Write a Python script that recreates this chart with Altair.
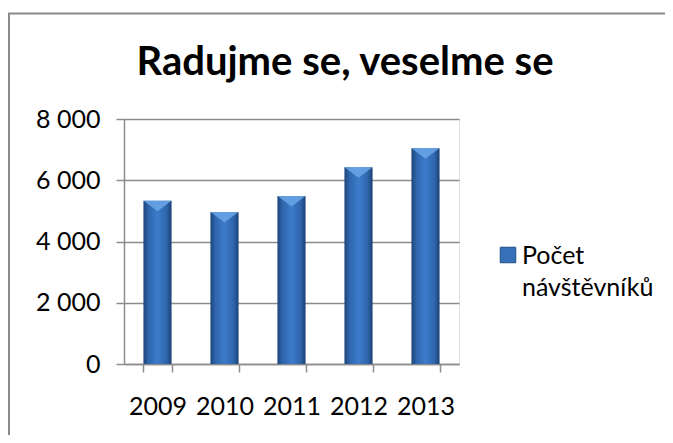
import altair as alt
import pandas as pd

# ---- data ----
years = ["2009", "2010", "2011", "2012", "2013"]
visitors = [5330, 4965, 5485, 6425, 7045]
series_name = "Počet návštěvníků"
chart_title = "Radujme se, veselme se"
y_ticks = [0, 2000, 4000, 6000, 8000]

df = pd.DataFrame({"rok": years, "pocet": visitors})

FONT = "Lato"
GRID = "#8c8c8c"
FS = 25

bar_gradient = alt.LinearGradient(
    gradient="linear",
    x1=0, x2=1, y1=0, y2=0,
    stops=[
        alt.GradientStop(color="#1d4479", offset=0),
        alt.GradientStop(color="#2f66ac", offset=0.18),
        alt.GradientStop(color="#3d7bca", offset=0.5),
        alt.GradientStop(color="#2f66ac", offset=0.82),
        alt.GradientStop(color="#1b4175", offset=1),
    ],
)

x_enc = alt.X(
    "rok:N",
    sort=years,
    title=None,
    scale=alt.Scale(paddingInner=0.58, paddingOuter=0.29),
    axis=alt.Axis(
        labelAngle=0,
        labelFont=FONT,
        labelFontSize=FS,
        labelColor="#000000",
        labelPadding=22,
        tickBand="extent",
        tickSize=8,
        tickColor=GRID,
        tickWidth=1.5,
        domainColor=GRID,
        domainWidth=1.5,
        grid=False,
    ),
)

y_enc = alt.Y(
    "pocet:Q",
    title=None,
    scale=alt.Scale(domain=[0, 8000], nice=False),
    axis=alt.Axis(
        values=y_ticks,
        labelExpr="replace(format(datum.value, ','), ',', ' ')",
        labelFont=FONT,
        labelFontSize=FS,
        labelColor="#000000",
        labelPadding=16,
        tickSize=8,
        tickColor=GRID,
        tickWidth=1.5,
        domainColor=GRID,
        domainWidth=1.5,
        grid=True,
        gridColor=GRID,
        gridWidth=1.5,
    ),
)

bars = alt.Chart(df).mark_bar(color=bar_gradient).encode(x=x_enc, y=y_enc)

# light bevel triangle at each bar top
bevel = alt.Chart(df).mark_point(
    shape="M-1,0L1,0L0,0.75Z", filled=True, size=784,
    color="#6aa6e8", opacity=0.85, strokeWidth=0,
).encode(x=alt.X("rok:N", sort=years), y="pocet:Q")

# title as real text
title_df = pd.DataFrame({"t": [chart_title]})
title = alt.Chart(title_df).mark_text(
    font=FONT, fontSize=40, fontWeight="bold", color="#000000",
    align="center", baseline="alphabetic",
).encode(text="t:N", x=alt.value(221), y=alt.value(-44))

# legend (symbol + two-line label)
leg_df = pd.DataFrame({"name": [series_name]})
leg_symbol = alt.Chart(leg_df).mark_point(
    shape="square", filled=True, size=240, color="#3670b8",
    stroke="#1f4a85", strokeWidth=1, opacity=1,
).encode(x=alt.value(384), y=alt.value(136))
leg_text = alt.Chart(leg_df).transform_calculate(
    lbl="replace(datum.name, ' ', '\\n')"
).mark_text(
    font=FONT, fontSize=FS, color="#000000", align="left",
    baseline="alphabetic", lineBreak="\n", lineHeight=32,
).encode(text="lbl:N", x=alt.value(398), y=alt.value(145))

# outer chart frame (only top and left edges visible in the reference)
frame_df = pd.DataFrame({"a": [0]})
frame = alt.Chart(frame_df).mark_rect(
    fill=None, stroke="#8a8a8a", strokeWidth=2
).encode(x=alt.value(-115), x2=alt.value(800), y=alt.value(-105.5), y2=alt.value(600))

chart = alt.layer(frame, bars, bevel, title, leg_symbol, leg_text).properties(
    width=335,
    height=245,
    padding={"left": 116, "top": 111, "right": 206, "bottom": 71},
    autosize=alt.AutoSizeParams(type="none"),
).configure_view(stroke=None).configure(background="#ffffff")

chart.save("out.html", embed_options={"renderer": "svg", "actions": False})
